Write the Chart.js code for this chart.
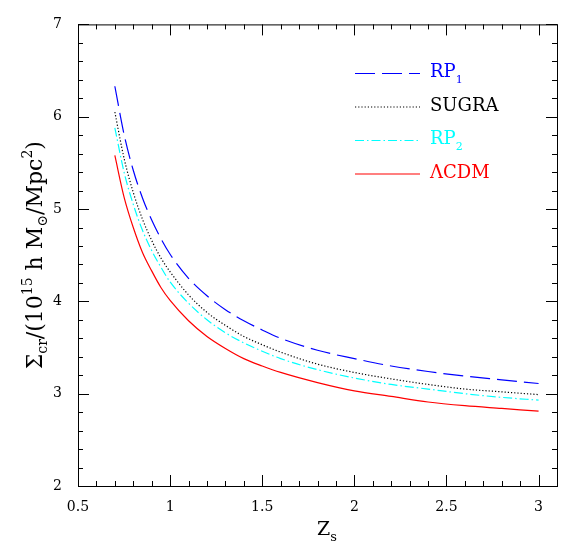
<!DOCTYPE html>
<html>
<head>
<meta charset="utf-8">
<script src="https://cdn.jsdelivr.net/npm/chart.js@4"></script>
<style>
  body { margin: 0; background: #fff; }
  #wrap { width: 561px; height: 548px; }
</style>
</head>
<body>
<div id="wrap"><canvas id="sigma-canvas" width="561" height="548"></canvas></div>
<script>
// source redshift grid and critical surface density (10^15 h Msun / Mpc^2)
const zs     = [0.7, 0.75, 0.8, 0.85, 0.9, 0.95, 1.0, 1.1, 1.2, 1.3, 1.4, 1.5, 1.6, 1.8, 2.0, 2.2, 2.4, 2.6, 2.8, 3.0];
const rp1    = [6.33, 5.81, 5.42, 5.12, 4.88, 4.68, 4.51, 4.25, 4.06, 3.91, 3.79, 3.69, 3.60, 3.47, 3.38, 3.30, 3.24, 3.19, 3.15, 3.11];
const sugra  = [6.05, 5.55, 5.18, 4.89, 4.66, 4.47, 4.32, 4.07, 3.88, 3.74, 3.62, 3.53, 3.45, 3.32, 3.23, 3.16, 3.10, 3.05, 3.02, 2.99];
const rp2    = [5.88, 5.40, 5.05, 4.77, 4.55, 4.37, 4.21, 3.98, 3.80, 3.66, 3.55, 3.46, 3.38, 3.26, 3.17, 3.10, 3.05, 3.00, 2.96, 2.93];
const lcdm   = [5.58, 5.13, 4.80, 4.53, 4.33, 4.15, 4.01, 3.79, 3.62, 3.49, 3.38, 3.30, 3.23, 3.12, 3.03, 2.97, 2.91, 2.87, 2.84, 2.81];

const x_ticks = [0.5, 1, 1.5, 2, 2.5, 3];
const y_ticks = [2, 3, 4, 5, 6, 7];

const SERIF = "'DejaVu Serif', 'Liberation Serif', serif";

function pts(ys){
  return ys.map((y, i) => ({x: zs[i], y: y}));
}

// draws a list of pieces {t, size, dy} one after the other from x,y
function rich_width(ctx, pieces){
  return pieces.reduce(function(w, p){
    ctx.font = `${p.size}px ${SERIF}`;
    return w + ctx.measureText(p.t).width;
  }, 0);
}
function rich_text(ctx, pieces, x, y){
  pieces.forEach(function(p){
    ctx.font = `${p.size}px ${SERIF}`;
    ctx.fillText(p.t, x, y + (p.dy || 0));
    x += ctx.measureText(p.t).width;
  });
}

const frame_plugin = {
  id: 'frame',
  afterDraw(chart){
    const ctx = chart.ctx;
    const a = chart.chartArea;
    const xs = chart.scales.x, ys = chart.scales.y;
    ctx.save();
    ctx.strokeStyle = '#000';
    ctx.lineWidth = 1;
    ctx.strokeRect(a.left + 0.5, a.top + 0.5, a.right - a.left, a.bottom - a.top);
    ctx.beginPath();
    // ticks inside on all four sides
    for(let i = 5; i <= 31; i++){
      const px = Math.round(xs.getPixelForValue(i / 10)) + 0.5;
      const len = (i % 5 == 0) ? 11 : 5;
      ctx.moveTo(px, a.bottom); ctx.lineTo(px, a.bottom - len);
      ctx.moveTo(px, a.top); ctx.lineTo(px, a.top + len);
    }
    for(let i = 10; i <= 35; i++){
      const py = Math.round(ys.getPixelForValue(i / 5)) + 0.5;
      const len = (i % 5 == 0) ? 11 : 5;
      ctx.moveTo(a.left, py); ctx.lineTo(a.left + len, py);
      ctx.moveTo(a.right, py); ctx.lineTo(a.right - len, py);
    }
    ctx.stroke();

    // axis titles
    ctx.fillStyle = '#000';
    ctx.textBaseline = 'alphabetic';
    const xt = [{t: 'Z', size: 19}, {t: 's', size: 13, dy: 6}];
    rich_text(ctx, xt, 317, 535);

    const yt = [
      {t: 'Σ', size: 22}, {t: 'cr', size: 14, dy: 5}, {t: '/(10', size: 22},
      {t: '15', size: 14, dy: -10}, {t: ' h M', size: 22}, {t: '⊙', size: 14, dy: 5},
      {t: '/Mpc', size: 22}, {t: '2', size: 14, dy: -10}, {t: ')', size: 22}
    ];
    const w = rich_width(ctx, yt);
    ctx.translate(42, (a.top + a.bottom) / 2);
    ctx.rotate(-Math.PI / 2);
    rich_text(ctx, yt, -w / 2, 0);
    ctx.restore();

    // legend
    ctx.save();
    chart.data.datasets.forEach(function(ds, i){
      const base = 77 + i * 33.5;
      ctx.strokeStyle = ds.borderColor;
      ctx.lineWidth = ds.borderWidth;
      ctx.setLineDash(ds.borderDash || []);
      ctx.beginPath();
      ctx.moveTo(355, base - 3.5);
      ctx.lineTo(420, base - 3.5);
      ctx.stroke();
      ctx.fillStyle = ds.borderColor;
      rich_text(ctx, ds.legendPieces, 430, base);
    });
    ctx.restore();
  }
};

const ctx = document.getElementById('sigma-canvas');
const myChart = new Chart(ctx, {
  type: 'line',
  plugins: [frame_plugin],
  data: {
    datasets: [{
      label: 'RP1',
      legendPieces: [{t: 'RP', size: 18}, {t: '1', size: 11, dy: 6}],
      data: pts(rp1),
      borderColor: '#0000ff',
      borderWidth: 1.2,
      borderDash: [20, 7]
    }, {
      label: 'SUGRA',
      legendPieces: [{t: 'SUGRA', size: 18}],
      data: pts(sugra),
      borderColor: '#000000',
      borderWidth: 1.2,
      borderDash: [1.2, 2]
    }, {
      label: 'RP2',
      legendPieces: [{t: 'RP', size: 18}, {t: '2', size: 11, dy: 6}],
      data: pts(rp2),
      borderColor: '#00ffff',
      borderWidth: 1.2,
      borderDash: [9, 3, 1.5, 3]
    }, {
      label: 'ΛCDM',
      legendPieces: [{t: 'ΛCDM', size: 18}],
      data: pts(lcdm),
      borderColor: '#ff0000',
      borderWidth: 1.2
    }]
  },
  options: {
    animation: false,
    responsive: false,
    events: [],
    elements: {
      point: { radius: 0 },
      line: { cubicInterpolationMode: 'monotone', fill: false }
    },
    plugins: {
      legend: false,
      title: { display: false },
      tooltip: { enabled: false }
    },
    layout: {
      padding: { top: 6, right: 4, left: 0, bottom: 0 }
    },
    scales: {
      x: {
        type: 'linear',
        min: 0.5,
        max: 3.1,
        afterFit: function(s){ s.height = 62; },
        afterBuildTicks: function(s){ s.ticks = x_ticks.map(v => ({value: v})); },
        grid: { display: false, drawTicks: false },
        border: { display: false },
        ticks: {
          color: '#000',
          padding: 13,
          maxRotation: 0,
          callback: v => String(v),
          font: { family: SERIF, size: 14 }
        }
      },
      y: {
        type: 'linear',
        min: 2,
        max: 7,
        afterFit: function(s){ s.width = 78; },
        afterBuildTicks: function(s){ s.ticks = y_ticks.map(v => ({value: v})); },
        grid: { display: false, drawTicks: false },
        border: { display: false },
        ticks: {
          color: '#000',
          padding: 16,
          callback: v => String(v),
          font: { family: SERIF, size: 14 }
        }
      }
    }
  }
});
</script>
</body>
</html>
